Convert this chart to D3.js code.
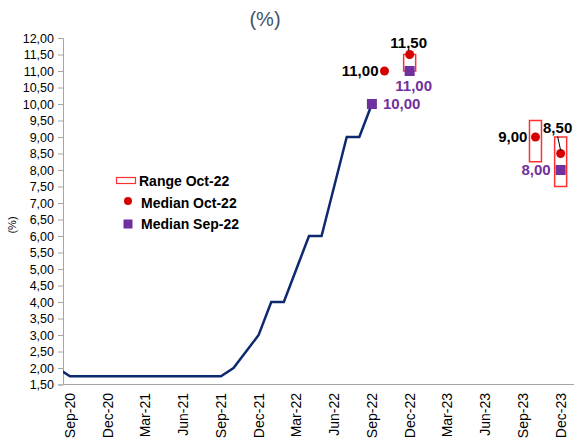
<!DOCTYPE html>
<html>
<head>
<meta charset="utf-8">
<script src="https://cdn.jsdelivr.net/npm/d3@7"></script>
<style>
  body { margin: 0; background: #fff; }
  svg { font-family: "Liberation Sans", Arial, sans-serif; }
</style>
</head>
<body>
<div id="chart"></div>
<script>
const width = 574;
const height = 443;

// policy rate, month-end
const rateMonths = ["Aug-20", "Sep-20", "Oct-20", "Nov-20", "Dec-20", "Jan-21", "Feb-21", "Mar-21", "Apr-21",
  "May-21", "Jun-21", "Jul-21", "Aug-21", "Sep-21", "Oct-21", "Nov-21", "Dec-21", "Jan-22", "Feb-22",
  "Mar-22", "Apr-22", "May-22", "Jun-22", "Jul-22", "Aug-22", "Sep-22"];
const rateValues = [2.00, 1.75, 1.75, 1.75, 1.75, 1.75, 1.75, 1.75, 1.75, 1.75, 1.75, 1.75, 1.75, 1.75,
  2.00, 2.50, 3.00, 4.00, 4.00, 5.00, 6.00, 6.00, 7.50, 9.00, 9.00, 10.00];

// survey medians / ranges
const medSepMonths = ["Sep-22", "Dec-22", "Dec-23"];
const medSepValues = [10.00, 11.00, 8.00];
const medOctMonths = ["Oct-22", "Dec-22", "Oct-23", "Dec-23"];
const medOctValues = [11.00, 11.50, 9.00, 8.50];
const rangeMonths = ["Dec-22", "Oct-23", "Dec-23"];
const rangeLow = [11.00, 8.25, 7.50];
const rangeHigh = [11.50, 9.50, 9.00];

const xTickLabels = ["Sep-20", "Dec-20", "Mar-21", "Jun-21", "Sep-21", "Dec-21", "Mar-22", "Jun-22",
  "Sep-22", "Dec-22", "Mar-23", "Jun-23", "Sep-23", "Dec-23"];

const monNames = ["Jan", "Feb", "Mar", "Apr", "May", "Jun", "Jul", "Aug", "Sep", "Oct", "Nov", "Dec"];
// month position, Sep-20 = 0
const idx = (m) => {
  const [mon, yy] = m.split("-");
  return (+yy - 20) * 12 + monNames.indexOf(mon) - 8;
};

const loc = d3.formatLocale({decimal: ",", thousands: ".", grouping: [3], currency: ["", ""]});
const fmt = loc.format(".2f");

const navy = "#0e2a6e";
const red = "#d50000";
const purple = "#7030a0";
const axisGrey = "#a6a6a6";

const svg = d3.select("#chart").append("svg")
  .attr("width", width)
  .attr("height", height);

const x = d3.scaleLinear().domain([-0.55, 40.3]).range([63, 577]);
const y = d3.scaleLinear().domain([1.5, 12]).range([384.5, 38]);

svg.append("defs").append("clipPath").attr("id", "plot")
  .append("rect").attr("x", 63).attr("y", 0).attr("width", width - 63).attr("height", 385);

// title fragment
svg.append("text")
  .attr("x", 265).attr("y", 26)
  .attr("text-anchor", "middle")
  .attr("font-size", 20)
  .attr("fill", "#44546a")
  .text("(%)");

// y axis
const yAxis = svg.append("g")
  .attr("transform", "translate(63,0)")
  .call(d3.axisLeft(y).ticks(21).tickSize(5).tickPadding(4).tickFormat(fmt));
yAxis.select(".domain").attr("stroke", axisGrey);
yAxis.selectAll(".tick line").attr("stroke", axisGrey);
yAxis.selectAll(".tick text").attr("font-size", 12.5).attr("fill", "#000")
  .attr("font-family", "Liberation Sans, Arial, sans-serif");

svg.append("text")
  .attr("transform", "translate(16,225) rotate(-90)")
  .attr("text-anchor", "middle")
  .attr("font-size", 11)
  .text("(%)");

// x axis
svg.append("line")
  .attr("x1", 63).attr("x2", width)
  .attr("y1", y(1.5)).attr("y2", y(1.5))
  .attr("stroke", axisGrey);

svg.append("g").selectAll("text")
  .data(xTickLabels)
  .join("text")
  .attr("transform", (d) => `translate(${x(idx(d))},393) rotate(-90)`)
  .attr("text-anchor", "end")
  .attr("dy", "0.35em")
  .attr("font-size", 14)
  .text((d) => d);

// rate line
const line = d3.line()
  .x((d, i) => x(idx(rateMonths[i])))
  .y((d) => y(d));

svg.append("path")
  .datum(rateValues)
  .attr("clip-path", "url(#plot)")
  .attr("fill", "none")
  .attr("stroke", navy)
  .attr("stroke-width", 2.5)
  .attr("d", line);

// ranges
svg.append("g").selectAll("rect")
  .data(rangeMonths)
  .join("rect")
  .attr("x", (d) => x(idx(d)) - 6)
  .attr("width", 12)
  .attr("y", (d, i) => y(rangeHigh[i]))
  .attr("height", (d, i) => y(rangeLow[i]) - y(rangeHigh[i]))
  .attr("fill", "none")
  .attr("stroke", "#ff3030")
  .attr("stroke-width", 1.5);

// median sep-22
svg.append("g").selectAll("rect")
  .data(medSepMonths)
  .join("rect")
  .attr("x", (d) => x(idx(d)) - 5)
  .attr("y", (d, i) => y(medSepValues[i]) - 5)
  .attr("width", 10).attr("height", 10)
  .attr("fill", purple);

// median oct-22
svg.append("g").selectAll("circle")
  .data(medOctMonths)
  .join("circle")
  .attr("cx", (d) => x(idx(d)))
  .attr("cy", (d, i) => y(medOctValues[i]))
  .attr("r", 4.5)
  .attr("fill", red);

// value labels
const labels = [
  {m: medSepMonths[0], v: medSepValues[0], c: purple, dx: 11, dy: 0, a: "start"},
  {m: medSepMonths[1], v: medSepValues[1], c: purple, dx: 4, dy: 15, a: "middle"},
  {m: medSepMonths[2], v: medSepValues[2], c: purple, dx: -10, dy: 0, a: "end"},
  {m: medOctMonths[0], v: medOctValues[0], c: "#000", dx: -6, dy: 0, a: "end"},
  {m: medOctMonths[1], v: medOctValues[1], c: "#000", dx: -1, dy: -12, a: "middle"},
  {m: medOctMonths[2], v: medOctValues[2], c: "#000", dx: -8, dy: 0, a: "end"},
  {m: medOctMonths[3], v: medOctValues[3], c: "#000", dx: -3, dy: -26, a: "middle"}
];

svg.append("g").selectAll("text")
  .data(labels)
  .join("text")
  .attr("x", (d) => x(idx(d.m)) + d.dx)
  .attr("y", (d) => y(d.v) + d.dy)
  .attr("dy", "0.35em")
  .attr("text-anchor", (d) => d.a)
  .attr("font-size", 15)
  .attr("font-weight", "bold")
  .attr("fill", (d) => d.c)
  .text((d) => fmt(d.v));

// leader line for last median
const lx = x(idx(medOctMonths[3]));
svg.append("line")
  .attr("x1", lx - 3).attr("y1", y(medOctValues[3]) - 17)
  .attr("x2", lx).attr("y2", y(medOctValues[3]) - 3)
  .attr("stroke", "#000")
  .attr("stroke-width", 1);

// legend
const legend = svg.append("g").attr("font-size", 14).attr("font-weight", "bold");
legend.append("rect")
  .attr("x", 116.5).attr("y", 177.5).attr("width", 19).attr("height", 6)
  .attr("fill", "none").attr("stroke", "#ff3030").attr("stroke-width", 1.2);
legend.append("text").attr("x", 139).attr("y", 181).attr("dy", "0.35em").text("Range Oct-22");
legend.append("circle").attr("cx", 128).attr("cy", 201).attr("r", 4).attr("fill", red);
legend.append("text").attr("x", 141).attr("y", 203).attr("dy", "0.35em").text("Median Oct-22");
legend.append("rect").attr("x", 123.5).attr("y", 219.5).attr("width", 9).attr("height", 9).attr("fill", purple);
legend.append("text").attr("x", 141).attr("y", 224).attr("dy", "0.35em").text("Median Sep-22");
</script>
</body>
</html>
